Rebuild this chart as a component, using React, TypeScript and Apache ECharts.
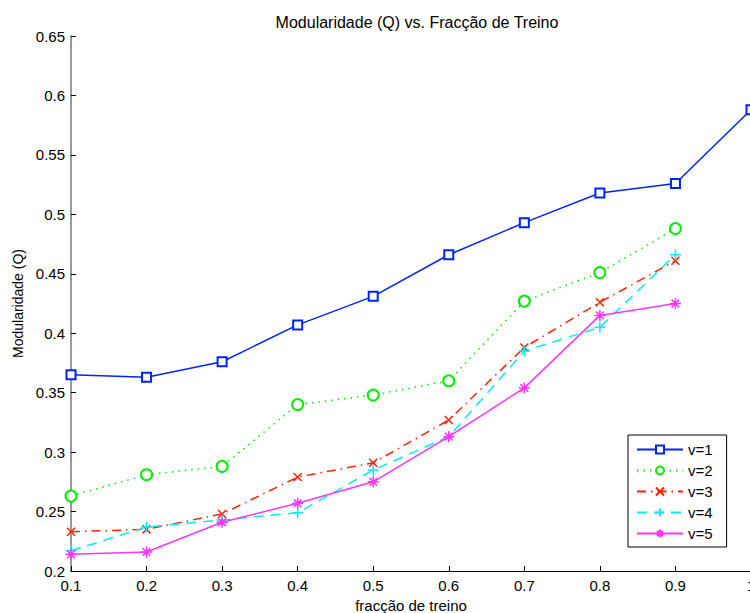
import React, { useEffect, useRef } from "react";
import * as echarts from "echarts";

const xValues = [0.1, 0.2, 0.3, 0.4, 0.5, 0.6, 0.7, 0.8, 0.9, 1.0];
const v1 = [0.365, 0.363, 0.376, 0.407, 0.431, 0.466, 0.493, 0.518, 0.526, 0.588];
const v2 = [0.263, 0.281, 0.288, 0.340, 0.348, 0.360, 0.427, 0.451, 0.488];
const v3 = [0.233, 0.235, 0.248, 0.279, 0.291, 0.327, 0.388, 0.426, 0.461];
const v4 = [0.217, 0.237, 0.243, 0.249, 0.285, 0.313, 0.385, 0.405, 0.466];
const v5 = [0.214, 0.216, 0.241, 0.257, 0.275, 0.313, 0.354, 0.415, 0.425];
const seriesNames = ["v=1", "v=2", "v=3", "v=4", "v=5"];

const FONT = "Liberation Sans, Arial, Helvetica, sans-serif";

export default function App() {
  const ref = useRef<HTMLDivElement>(null);
  useEffect(() => {
    if (!ref.current) return;
    const chart = echarts.init(ref.current, undefined, { renderer: "svg" });
    const pair = (ys: number[]) => ys.map((y, i) => [xValues[i], y]);
    const specs = [
      { data: v1, color: "#0022ff", type: "solid" as any, symbol: "emptyRect", size: 9 },
      { data: v2, color: "#00ee00", type: [1.5, 5] as any, symbol: "emptyCircle", size: 11 },
      { data: v3, color: "#ff2200", type: [9, 5, 1.5, 5] as any, symbol: "path://M0,0L10,10M0,10L10,0", size: 8 },
      { data: v4, color: "#00eeff", type: [10, 7] as any, symbol: "path://M5,0L5,10M0,5L10,5", size: 11 },
      { data: v5, color: "#ff33ff", type: "solid" as any, symbol: "path://M5,0L5,10M0,5L10,5M1.5,1.5L8.5,8.5M1.5,8.5L8.5,1.5", size: 11 },
    ];
    chart.setOption({
      animation: false,
      backgroundColor: "#fff",
      textStyle: { fontFamily: FONT },
      title: {
        text: "Modularidade (Q) vs. Fracção de Treino",
        left: 412,
        top: 9,
        textAlign: "center",
        textStyle: { fontSize: 16, fontWeight: "normal", color: "#000", fontFamily: FONT },
      },
      grid: { left: 71, right: -1, top: 36, bottom: 42, outerBoundsMode: "none" },
      legend: {
        orient: "vertical",
        left: 628,
        top: 435,
        width: 80,
        padding: [7, 14, 6, 8],
        itemGap: 6,
        itemWidth: 46,
        itemHeight: 10,
        borderColor: "#000",
        borderWidth: 1,
        backgroundColor: "#fff",
        textStyle: { fontSize: 15, color: "#000", fontFamily: FONT, padding: [0, 0, 0, 0] },
        data: seriesNames,
      },
      xAxis: {
        type: "value",
        min: 0.1,
        max: 1,
        interval: 0.1,
        name: "fracção de treino",
        nameLocation: "middle",
        nameGap: 22,
        nameTextStyle: { fontSize: 15, color: "#000", fontFamily: FONT },
        axisLine: { lineStyle: { color: "#000", width: 1 } },
        axisTick: { inside: true, length: 5, lineStyle: { color: "#000" } },
        axisLabel: {
          fontSize: 15,
          color: "#000",
          margin: 7,
          fontFamily: FONT,
          formatter: (v: number) => String(+v.toFixed(2)),
        },
        splitLine: { show: false },
      },
      yAxis: {
        type: "value",
        min: 0.2,
        max: 0.65,
        interval: 0.05,
        name: "Modularidade (Q)",
        nameLocation: "middle",
        nameGap: 46,
        nameTextStyle: { fontSize: 14, color: "#000", fontFamily: FONT },
        axisLine: { show: true, lineStyle: { color: "#777", width: 1.5 } },
        axisTick: { show: true, inside: true, length: 5, lineStyle: { color: "#000" } },
        axisLabel: {
          fontSize: 15,
          color: "#000",
          margin: 6,
          fontFamily: FONT,
          formatter: (v: number) => String(+v.toFixed(2)),
        },
        splitLine: { show: false },
      },
      series: specs.map((s, i) => ({
        name: seriesNames[i],
        type: "line",
        data: pair(s.data),
        symbol: s.symbol,
        symbolSize: s.size,
        showSymbol: true,
        clip: false,
        lineStyle: { color: s.color, width: 1.5, type: s.type },
        itemStyle: { color: s.color, borderColor: s.color, borderWidth: 1.5 },
      })),
    });
    return () => chart.dispose();
  }, []);
  return <div ref={ref} style={{ width: 750, height: 613, position: "absolute", left: 0, top: 0 }} />;
}
